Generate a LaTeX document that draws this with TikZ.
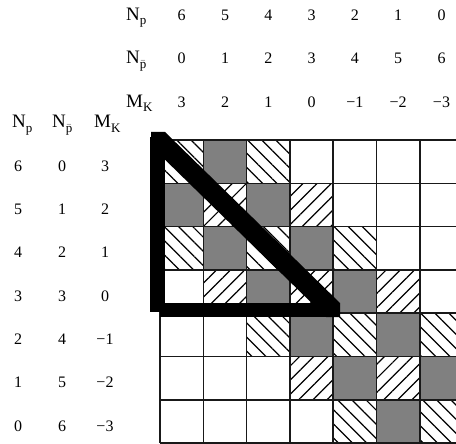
\documentclass[tikz,border=0pt]{standalone}
\usepackage{fontspec}
\setmainfont{Liberation Serif}
\usetikzlibrary{patterns.meta}
\newcommand\mysub[1]{\raisebox{-4.5pt}{\fontsize{13}{13}\selectfont #1}}
\tikzset{
  celldot/.style={fill=black!50},
  cellnw/.style={pattern={Lines[angle=-45,distance=10pt,line width=1.2pt]}},
  cellne/.style={pattern={Lines[angle=45,distance=10pt,line width=1.2pt]}},
  gridline/.style={line width=1.5pt, draw=black!90},
  num/.style={font=\fontsize{16}{16}\selectfont, inner sep=0pt, anchor=base},
  lab/.style={font=\fontsize{19}{19}\selectfont, inner sep=0pt, anchor=base west},
}
\begin{document}
\begin{tikzpicture}[x=1pt,y=-1pt]
\useasboundingbox (0,0) rectangle (456,444);
\clip (0,0) rectangle (456,444);
\def\cs{43.3}
% cells
\foreach \r/\c in {0/1,1/0,1/2,2/1,2/3,3/2,3/4,4/3,4/5,5/4,5/6,6/5}
  \fill[celldot] ({160+\c*\cs},{140+\r*\cs}) rectangle +(\cs,\cs);
\foreach \r/\c in {0/0,0/2,2/0,2/2,2/4,4/2,4/4,4/6,6/4,6/6}
  \fill[cellnw] ({160+\c*\cs},{140+\r*\cs}) rectangle +(\cs,\cs);
\foreach \r/\c in {1/1,1/3,3/1,3/3,3/5,5/3,5/5}
  \fill[cellne] ({160+\c*\cs},{140+\r*\cs}) rectangle +(\cs,\cs);
% grid
\foreach \i in {0,...,7}{
  \draw[gridline] ({160+\i*\cs},140) -- ({160+\i*\cs},{140+7*\cs});
  \draw[gridline] (160,{140+\i*\cs}) -- ({160+7*\cs},{140+\i*\cs});
}
% thick triangle
\fill (150,137) rectangle (165,312);
\fill (160,303) rectangle (336,317);
\fill (151,132) -- (165,132) -- (340,303) -- (340,317) -- (326,317) -- (151,146) -- cycle;
% top header
\node[lab] (tnp) at (126,20.5) {N\mysub{p}};
\node[lab] (tnq) at (126,63.8) {N\mysub{$\bar{\mathrm{p}}$}};
\node[lab] (tmk) at (126,107.1) {M\mysub{K}};
\foreach \v [count=\i from 0] in {6,5,4,3,2,1,0}
  \node[num] (ta\i) at ({181.7+\i*\cs},20.5) {\v};
\foreach \v [count=\i from 0] in {0,1,2,3,4,5,6}
  \node[num] (tb\i) at ({181.7+\i*\cs},63.8) {\v};
\foreach \v [count=\i from 0] in {3,2,1,0,−1,−2,−3}
  \node[num] (tc\i) at ({181.7+\i*\cs},107.1) {\v};
% left header
\node[lab] (lnp) at (12,128) {N\mysub{p}};
\node[lab] (lnq) at (52,128) {N\mysub{$\bar{\mathrm{p}}$}};
\node[lab] (lmk) at (94,128) {M\mysub{K}};
\foreach \v [count=\i from 0] in {6,5,4,3,2,1,0}
  \node[num] (la\i) at (18,{171.2+\i*\cs}) {\v};
\foreach \v [count=\i from 0] in {0,1,2,3,4,5,6}
  \node[num] (lb\i) at (62,{171.2+\i*\cs}) {\v};
\foreach \v [count=\i from 0] in {3,2,1,0,−1,−2,−3}
  \node[num] (lc\i) at (105,{171.2+\i*\cs}) {\v};
\end{tikzpicture}
\end{document}
